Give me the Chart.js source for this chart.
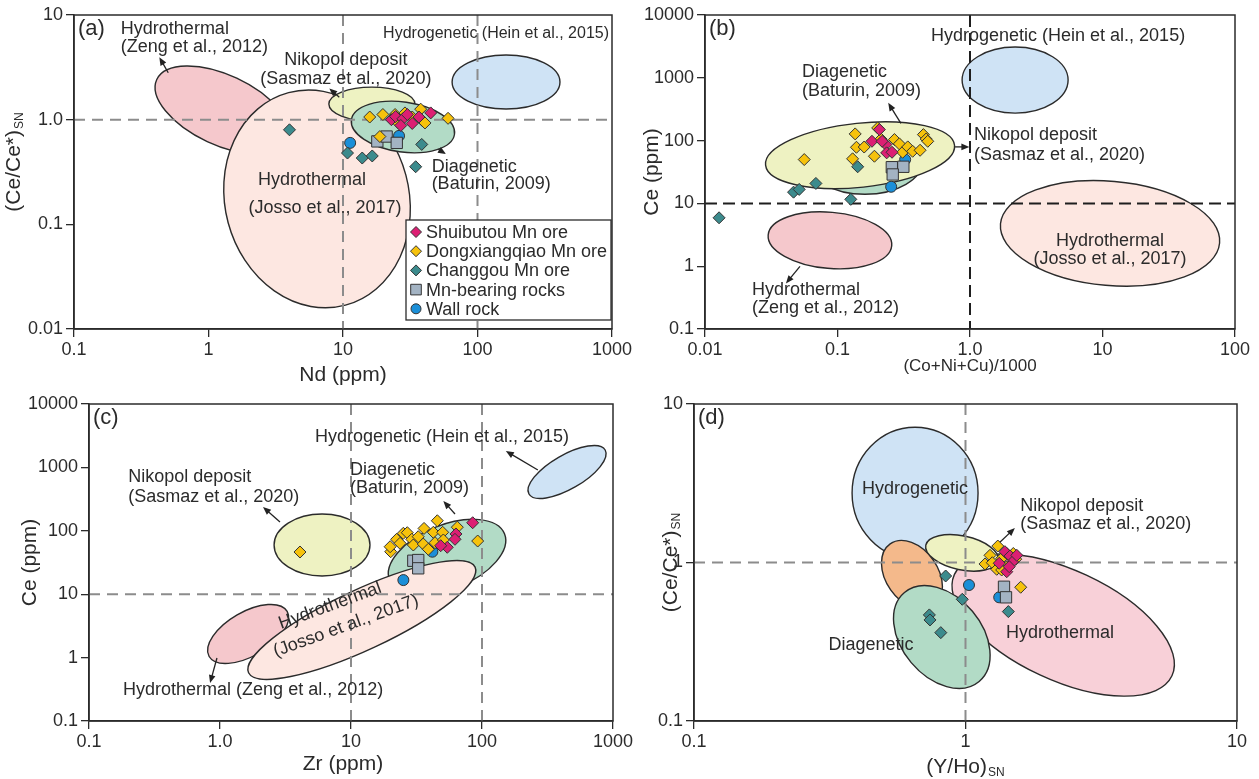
<!DOCTYPE html>
<html><head><meta charset="utf-8">
<script src="https://cdn.jsdelivr.net/npm/chart.js@4.4.1/dist/chart.umd.min.js"></script>
<style>
html,body{margin:0;padding:0;background:#fff;}
#wrap{position:relative;width:1259px;height:779px;overflow:hidden;background:#fff;}
canvas{position:absolute;}
</style></head><body>
<div id="wrap">
<canvas id="ca" width="640" height="390" style="left:0;top:0"></canvas>
<canvas id="cb" width="619" height="390" style="left:640px;top:0"></canvas>
<canvas id="cc" width="640" height="389" style="left:0;top:390px"></canvas>
<canvas id="cd" width="619" height="389" style="left:640px;top:390px"></canvas>
</div>
<script>
// ---------------- DATA ----------------
const seriesNames = ['Shuibutou Mn ore','Dongxiangqiao Mn ore','Changgou Mn ore','Mn-bearing rocks','Wall rock'];

// (a) Nd (ppm) vs (Ce/Ce*)SN
const aShuiNd = [22.9, 24.6, 27.9, 30.1, 32.7, 26.9, 44.9, 36.7];
const aShuiCe = [1.00, 1.07, 1.02, 1.12, 0.92, 0.88, 1.16, 1.06];
const aDongNd = [15.8, 19.8, 24.4, 25.6, 28.9, 37.8, 38.9, 40.7, 60.4, 18.8, 32.7];
const aDongCe = [1.06, 1.12, 1.12, 0.94, 1.16, 1.26, 0.98, 0.93, 1.03, 0.69, 1.06];
const aChanNd = [4.0, 10.8, 13.9, 16.5, 38.5, 34.7];
const aChanCe = [0.80, 0.48, 0.43, 0.45, 0.58, 0.355];
const aMnNd = [18.0, 21.1, 25.1];
const aMnCe = [0.62, 0.69, 0.60];
const aWallNd = [11.3, 26.1];
const aWallCe = [0.60, 0.70];
const aXTicks = [0.1, 1, 10, 100, 1000];
const aXLabels = ['0.1','1','10','100','1000'];
const aYTicks = [0.01, 0.1, 1, 10];
const aYLabels = ['0.01','0.1','1.0','10'];

// (b) (Co+Ni+Cu)/1000 vs Ce (ppm)
const bShuiX = [0.207, 0.182, 0.232, 0.235, 0.258, 0.217];
const bShuiCe = [150, 97.5, 86.5, 63.8, 65.2, 97.5];
const bDongX = [0.0561, 0.136, 0.139, 0.159, 0.130, 0.190, 0.213, 0.269, 0.293, 0.310, 0.339, 0.369, 0.420, 0.445, 0.467, 0.480, 0.201];
const bDongCe = [49.9, 127.8, 78.3, 79, 51.3, 56.4, 106, 104, 88.7, 65.2, 79.4, 67.6, 70.2, 124.5, 106, 97.5, 159];
const bChanX = [0.01277, 0.0466, 0.0514, 0.0687, 0.126, 0.142];
const bChanCe = [5.9, 15.1, 16.7, 20.8, 11.6, 38.3];
const bMnX = [0.257, 0.314, 0.261];
const bMnCe = [37.7, 38.3, 28.9];
const bWallX = [0.254, 0.324];
const bWallCe = [18.4, 49.9];
const bXTicks = [0.01, 0.1, 1, 10, 100];
const bXLabels = ['0.01','0.1','1.0','10','100'];
const bYTicks = [0.1, 1, 10, 100, 1000, 10000];
const bYLabels = ['0.1','1','10','100','1000','10000'];

// (c) Zr (ppm) vs Ce (ppm)
const cShuiZr = [84.9, 63.3, 62.2, 54.3, 48.4];
const cShuiCe = [134, 89.1, 73.4, 54.9, 58.2];
const cDongZr = [20.1, 19.9, 22.3, 23.7, 25.1, 26.9, 29.1, 29.9, 32.6, 36.1, 35.6, 38.9, 42.5, 43.8, 45.6, 50.1, 50.7, 64.8, 92.7, 4.08];
const cDongCe = [46.8, 56.1, 73.4, 63.5, 91.4, 93.3, 73.4, 59.7, 80.7, 109, 61.9, 51.1, 94.7, 64.9, 144, 94.7, 71.6, 114, 69.0, 46.3];
const cChanZr = [];
const cChanCe = [];
const cMnZr = [29.9, 32.6, 32.6];
const cMnCe = [33.7, 34.6, 25.6];
const cWallZr = [41.8, 25.1];
const cWallCe = [46.8, 16.7];
const cXTicks = [0.1, 1, 10, 100, 1000];
const cXLabels = ['0.1','1.0','10','100','1000'];
const cYTicks = [0.1, 1, 10, 100, 1000, 10000];
const cYLabels = ['0.1','1','10','100','1000','10000'];

// (d) (Y/Ho)SN vs (Ce/Ce*)SN
const dShuiYHo = [1.397, 1.459, 1.492, 1.419, 1.331, 1.545, 1.449];
const dShuiCe = [1.17, 1.10, 1.01, 0.875, 0.989, 1.11, 0.941];
const dDongYHo = [1.315, 1.231, 1.180, 1.255, 1.303, 1.359, 1.419, 1.500, 1.531, 1.597, 1.419, 1.359];
const dDongCe = [1.27, 1.11, 0.979, 0.997, 0.906, 1.06, 1.14, 1.14, 1.05, 0.698, 0.941, 0.897];
const dChanYHo = [0.845, 0.973, 0.736, 0.740, 0.811, 1.438];
const dChanCe = [0.822, 0.586, 0.467, 0.434, 0.361, 0.490];
const dMnYHo = [1.386, 1.410];
const dMnCe = [0.703, 0.603];
const dWallYHo = [1.030, 1.331];
const dWallCe = [0.721, 0.603];
const dXTicks = [0.1, 1, 10];
const dXLabels = ['0.1','1','10'];
const dYTicks = [0.1, 1, 10];
const dYLabels = ['0.1','1','10'];

// ---------------- FIELDS (ellipses in data units: centre, half-axes in decades, tilt) ----------------
const aFields = [
  {kind:'zeng', cx:1.26, cy:1.24, rx:0.535, ry:0.334, rot:25},
  {kind:'josso', cx:6.41, cy:0.175, rx:0.684, ry:1.051, rot:-15},
  {kind:'nikopol', cx:16.4, cy:1.41, rx:0.320, ry:0.162, rot:0},
  {kind:'diag', cx:27.9, cy:0.851, rx:0.387, ry:0.239, rot:8},
  {kind:'hydrog', cx:163, cy:2.29, rx:0.401, ry:0.258, rot:0}
];
const bFields = [
  {kind:'diag', cx:0.161, cy:48.7, rx:0.438, ry:0.542, rot:0},
  {kind:'nikopol', cx:0.148, cy:58.5, rx:0.717, ry:0.510, rot:-6},
  {kind:'hydrog', cx:2.19, cy:919, rx:0.400, ry:0.526, rot:0},
  {kind:'zeng', cx:0.0877, cy:2.58, rx:0.468, ry:0.447, rot:5},
  {kind:'josso', cx:11.4, cy:3.33, rx:0.830, ry:0.829, rot:5}
];
const cFields = [
  {kind:'zeng', cx:1.64, cy:2.36, rx:0.344, ry:0.347, rot:-30},
  {kind:'diag', cx:54.1, cy:38.6, rx:0.473, ry:0.505, rot:-22},
  {kind:'josso', cx:12.1, cy:3.92, rx:0.954, ry:0.473, rot:-25},
  {kind:'nikopol', cx:6.01, cy:59.7, rx:0.366, ry:0.489, rot:0},
  {kind:'hydrog', cx:446, cy:846, rx:0.336, ry:0.268, rot:-30}
];
const dFields = [
  {kind:'hydrog', cx:0.652, cy:2.74, rx:0.232, ry:0.416, rot:0},
  {kind:'orange', cx:0.635, cy:0.834, rx:0.140, ry:0.164, rot:55},
  {kind:'pinkd', cx:2.29, cy:0.403, rx:0.442, ry:0.347, rot:25},
  {kind:'nikopol', cx:0.970, cy:1.15, rx:0.136, ry:0.107, rot:12},
  {kind:'diag', cx:0.818, cy:0.339, rx:0.214, ry:0.252, rot:50}
];

// ---------------- LABELS & ARROWS (anchored in data units) ----------------
const aNotes = [
  {t:'Hydrothermal', x:0.223, y:7.30, align:'left'},
  {t:'(Zeng et al., 2012)', x:0.223, y:4.98, align:'left'},
  {t:'Nikopol deposit', x:10.5, y:3.72, align:'center'},
  {t:'(Sasmaz et al., 2020)', x:10.5, y:2.45, align:'center'},
  {t:'Hydrogenetic (Hein et al., 2015)', x:950, y:6.58, align:'right', size:16},
  {t:'Diagenetic', x:45.6, y:0.351, align:'left'},
  {t:'(Baturin, 2009)', x:45.6, y:0.243, align:'left'},
  {t:'Hydrothermal', x:5.89, y:0.265, align:'center'},
  {t:'(Josso et al., 2017)', x:7.35, y:0.143, align:'center'}
];
const aArrows = [[0.502,2.81,0.431,3.94],[9.38,1.64,7.91,1.99],[51.1,0.521,58.3,0.470]];
const bNotes = [
  {t:'Hydrogenetic (Hein et al., 2015)', x:4.62, y:4624, align:'center'},
  {t:'Diagenetic', x:0.054, y:1233, align:'left'},
  {t:'(Baturin, 2009)', x:0.054, y:614, align:'left'},
  {t:'Nikopol deposit', x:1.07, y:122, align:'left'},
  {t:'(Sasmaz et al., 2020)', x:1.07, y:58.5, align:'left'},
  {t:'Hydrothermal', x:11.4, y:2.49, align:'center'},
  {t:'(Josso et al., 2017)', x:11.4, y:1.28, align:'center'},
  {t:'Hydrothermal', x:0.0226, y:0.411, align:'left'},
  {t:'(Zeng et al., 2012)', x:0.0226, y:0.212, align:'left'}
];
const bArrows = [[0.301,187.5,0.2415,399],[0.771,79.4,0.989,79.4],[0.0521,0.993,0.0408,0.532]];
const cNotes = [
  {t:'Hydrogenetic (Hein et al., 2015)', x:49.5, y:3015, align:'center'},
  {t:'Nikopol deposit', x:0.199, y:706, align:'left'},
  {t:'(Sasmaz et al., 2020)', x:0.199, y:341, align:'left'},
  {t:'Diagenetic', x:9.83, y:910, align:'left'},
  {t:'(Baturin, 2009)', x:9.83, y:473, align:'left'},
  {t:'Hydrothermal', x:6.92, y:6.52, align:'center', rot:-20},
  {t:'(Josso et al., 2017)', x:9.16, y:3.15, align:'center', rot:-20},
  {t:'Hydrothermal (Zeng et al., 2012)', x:0.182, y:0.308, align:'left'}
];
const cArrows = [[267,910,152,1814],[2.87,138,2.13,237],[62.2,184,50.7,295],[0.948,0.986,0.840,0.397]];
const dNotes = [
  {t:'Hydrogenetic', x:0.652, y:2.91, align:'center'},
  {t:'Nikopol deposit', x:1.59, y:2.27, align:'left'},
  {t:'(Sasmaz et al., 2020)', x:1.59, y:1.75, align:'left'},
  {t:'Diagenetic', x:0.449, y:0.301, align:'center'},
  {t:'Hydrothermal', x:2.23, y:0.359, align:'center'}
];
const dArrows = [[1.306,1.29,1.52,1.65]];

// ---------------- STYLE ----------------
const FONT = "'Liberation Sans', Arial, Helvetica, sans-serif";
const INK = '#2b2b2b';
const FIELD_FILL = {zeng:'#f5c8cc', josso:'#fde7e1', nikopol:'#eef2c2', diag:'#b2dbc6', hydrog:'#cfe3f5', orange:'#f4b98b', pinkd:'#f8d0d8'};
const SERIES_STYLE = [
  {style:'rectRot', color:'#dc1f73', r:6},
  {style:'rectRot', color:'#f6c20c', r:6},
  {style:'rectRot', color:'#3c8b8d', r:6},
  {style:'rect', color:'#a3b3c3', r:8},
  {style:'circle', color:'#1b8fd8', r:5.5}
];

function pts(xs, ys){ return xs.map((v,i)=>({x:v, y:ys[i]})); }
function makeDatasets(groups){
  return groups.map((g,i)=>({
    label: seriesNames[i], data: pts(g[0], g[1]),
    pointStyle: SERIES_STYLE[i].style, pointRadius: SERIES_STYLE[i].r,
    backgroundColor: SERIES_STYLE[i].color, borderColor: '#333', borderWidth: 1,
    pointBorderColor:'#333', pointBackgroundColor: SERIES_STYLE[i].color, showLine:false
  }));
}

function arrow(ctx, x1,y1,x2,y2){
  const a = Math.atan2(y2-y1, x2-x1), L=8, W=3.3;
  ctx.beginPath(); ctx.moveTo(x1,y1); ctx.lineTo(x2-L*0.7*Math.cos(a), y2-L*0.7*Math.sin(a)); ctx.stroke();
  ctx.beginPath(); ctx.moveTo(x2,y2);
  ctx.lineTo(x2-L*Math.cos(a)+W*Math.sin(a), y2-L*Math.sin(a)-W*Math.cos(a));
  ctx.lineTo(x2-L*Math.cos(a)-W*Math.sin(a), y2-L*Math.sin(a)+W*Math.cos(a));
  ctx.closePath(); ctx.fill();
}
function titleText(ctx, main, sub, x, y, rot, size, subSize){
  ctx.save(); ctx.translate(x,y); ctx.rotate(rot);
  ctx.font = size+'px '+FONT; const w1 = ctx.measureText(main).width;
  let w2 = 0; if(sub){ ctx.font = subSize+'px '+FONT; w2 = ctx.measureText(sub).width + 1; }
  const tot = w1 + w2, base = size*0.36;
  ctx.fillStyle = INK; ctx.textAlign='left'; ctx.textBaseline='alphabetic';
  ctx.font = size+'px '+FONT; ctx.fillText(main, -tot/2, base);
  if(sub){ ctx.font = subSize+'px '+FONT; ctx.fillText(sub, -tot/2 + w1 + 1, base + subSize*0.3); }
  ctx.restore();
}

const overlay = {
  id:'overlay',
  beforeDatasetsDraw(chart, args, o){
    const ctx = chart.ctx, ca = chart.chartArea, xs = chart.scales.x, ys = chart.scales.y;
    ctx.save();
    ctx.beginPath(); ctx.rect(ca.left, ca.top, ca.right-ca.left, ca.bottom-ca.top); ctx.clip();
    for(const e of o.fields){
      const cx = xs.getPixelForValue(e.cx), cy = ys.getPixelForValue(e.cy);
      const rx = Math.abs(xs.getPixelForValue(e.cx*Math.pow(10,e.rx)) - cx);
      const ry = Math.abs(ys.getPixelForValue(e.cy*Math.pow(10,e.ry)) - cy);
      ctx.beginPath(); ctx.ellipse(cx, cy, rx, ry, e.rot*Math.PI/180, 0, Math.PI*2);
      ctx.fillStyle = FIELD_FILL[e.kind]; ctx.fill();
      ctx.lineWidth = 1.4; ctx.strokeStyle = INK; ctx.stroke();
    }
    // reference lines
    ctx.setLineDash(o.dark ? [12,6] : [11,7]);
    ctx.lineWidth = 2; ctx.strokeStyle = o.dark ? '#1e1e1e' : '#8c8c8c';
    for(const v of o.refX){ const p = xs.getPixelForValue(v); ctx.beginPath(); ctx.moveTo(p, ca.top); ctx.lineTo(p, ca.bottom); ctx.stroke(); }
    for(const v of o.refY){ const p = ys.getPixelForValue(v); ctx.beginPath(); ctx.moveTo(ca.left, p); ctx.lineTo(ca.right, p); ctx.stroke(); }
    ctx.setLineDash([]);
    // notes
    ctx.fillStyle = INK; ctx.textBaseline='middle';
    for(const t of o.notes){
      ctx.save(); ctx.translate(xs.getPixelForValue(t.x), ys.getPixelForValue(t.y));
      if(t.rot) ctx.rotate(t.rot*Math.PI/180);
      ctx.font = (t.size || 18) + 'px ' + FONT;
      ctx.textAlign = t.align; ctx.fillText(t.t, 0, 0); ctx.restore();
    }
    ctx.strokeStyle = '#222'; ctx.fillStyle = '#222'; ctx.lineWidth = 1.3;
    for(const a of o.arrows){
      arrow(ctx, xs.getPixelForValue(a[0]), ys.getPixelForValue(a[1]), xs.getPixelForValue(a[2]), ys.getPixelForValue(a[3]));
    }
    ctx.restore();
  },
  afterDraw(chart, args, o){
    const ctx = chart.ctx, ca = chart.chartArea;
    ctx.save();
    ctx.strokeStyle = INK; ctx.lineWidth = 1.5;
    ctx.strokeRect(ca.left, ca.top, ca.right-ca.left, ca.bottom-ca.top);
    // panel letter
    ctx.fillStyle = INK; ctx.font = '22px '+FONT; ctx.textBaseline='middle'; ctx.textAlign='left';
    ctx.fillText(o.letter, ca.left+4, ca.top+14);
    // axis titles
    const cxm = (ca.left+ca.right)/2, cym = (ca.top+ca.bottom)/2;
    titleText(ctx, o.xTitle[0], o.xTitle[1], cxm + o.xTitleDX, ca.bottom + o.xTitleDY, 0, o.xTitleSize, 12);
    titleText(ctx, o.yTitle[0], o.yTitle[1], ca.left + o.yTitleDX, cym + o.yTitleDY, -Math.PI/2, o.yTitleSize, 12);
    // legend
    if(o.legend){
      const w = 205, h = 100, L = ca.right - w - 1, T = ca.bottom - h - 9;
      ctx.fillStyle = '#fff'; ctx.fillRect(L, T, w, h);
      ctx.strokeStyle = INK; ctx.lineWidth = 1.3; ctx.strokeRect(L, T, w, h);
      chart.data.datasets.forEach((ds, i) => {
        const y = T + 12 + i*19.2;
        ctx.fillStyle = ds.backgroundColor; ctx.strokeStyle = '#333'; ctx.lineWidth = 1;
        const r = ds.pointStyle === 'rect' ? 7.5 : (ds.pointStyle === 'circle' ? 5 : 5.5);
        Chart.helpers.drawPoint(ctx, {pointStyle: ds.pointStyle, radius: r, rotation: 0, borderWidth: 1}, L + 10, y);
        ctx.fillStyle = INK; ctx.font = '18px '+FONT; ctx.textAlign='left'; ctx.textBaseline='middle';
        ctx.fillText(ds.label, L + 20, y + 1);
      });
    }
    ctx.restore();
  }
};

function axis(pos, min, max, ticks, labels, fit, size){
  return {
    type:'logarithmic', position:pos, min:min, max:max,
    afterBuildTicks: s => { s.ticks = ticks.map(v => ({value:v})); },
    afterFit: s => { if(pos === 'bottom') s.height = fit; else s.width = fit; },
    ticks: { callback: (v, i) => labels[i], font:{family:FONT, size:size}, color:INK,
             padding: pos === 'bottom' ? 2 : 3, autoSkip:false, maxRotation:0, minRotation:0 },
    grid: { display:true, drawOnChartArea:false, drawTicks:true, tickLength:8, color:INK, lineWidth:1.3 },
    border: { display:true, color:INK, width:1.5 },
    title: { display:false }
  };
}

function panel(id, groups, xr, yr, layout, opts){
  new Chart(document.getElementById(id), {
    type:'scatter',
    data:{ datasets: makeDatasets(groups) },
    options:{
      responsive:false, animation:false, devicePixelRatio:1, events:[],
      layout:{ padding:{ top:layout.top, right:layout.right, left:0, bottom:0 } },
      scales:{
        x: axis('bottom', xr[0], xr[1], xr[2], xr[3], layout.xH, 18),
        y: axis('left', yr[0], yr[1], yr[2], yr[3], layout.yW, 18)
      },
      plugins:{ legend:{display:false}, tooltip:{enabled:false}, overlay: opts }
    },
    plugins:[overlay]
  });
}

panel('ca', [[aShuiNd,aShuiCe],[aDongNd,aDongCe],[aChanNd,aChanCe],[aMnNd,aMnCe],[aWallNd,aWallCe]],
  [0.1,1000,aXTicks,aXLabels], [0.01,10,aYTicks,aYLabels],
  {top:15, right:28, xH:61, yW:74},
  {fields:aFields, notes:aNotes, arrows:aArrows, refX:[10,100], refY:[1], dark:false, letter:'(a)', legend:true,
   xTitle:['Nd (ppm)',''], xTitleDX:0, xTitleDY:44, xTitleSize:21,
   yTitle:['(Ce/Ce*)','SN'], yTitleDX:-62, yTitleDY:-10, yTitleSize:21});

panel('cb', [[bShuiX,bShuiCe],[bDongX,bDongCe],[bChanX,bChanCe],[bMnX,bMnCe],[bWallX,bWallCe]],
  [0.01,100,bXTicks,bXLabels], [0.1,10000,bYTicks,bYLabels],
  {top:15, right:24, xH:61, yW:65},
  {fields:bFields, notes:bNotes, arrows:bArrows, refX:[1], refY:[10], dark:true, letter:'(b)', legend:false,
   xTitle:['(Co+Ni+Cu)/1000',''], xTitleDX:0, xTitleDY:36, xTitleSize:17,
   yTitle:['Ce (ppm)',''], yTitleDX:-55, yTitleDY:0, yTitleSize:21});

panel('cc', [[cShuiZr,cShuiCe],[cDongZr,cDongCe],[cChanZr,cChanCe],[cMnZr,cMnCe],[cWallZr,cWallCe]],
  [0.1,1000,cXTicks,cXLabels], [0.1,10000,cYTicks,cYLabels],
  {top:14, right:27, xH:58, yW:89},
  {fields:cFields, notes:cNotes, arrows:cArrows, refX:[10,100], refY:[10], dark:false, letter:'(c)', legend:false,
   xTitle:['Zr (ppm)',''], xTitleDX:-8, xTitleDY:41, xTitleSize:21,
   yTitle:['Ce (ppm)',''], yTitleDX:-61, yTitleDY:0, yTitleSize:21});

panel('cd', [[dShuiYHo,dShuiCe],[dDongYHo,dDongCe],[dChanYHo,dChanCe],[dMnYHo,dMnCe],[dWallYHo,dWallCe]],
  [0.1,10,dXTicks,dXLabels], [0.1,10,dYTicks,dYLabels],
  {top:14, right:22, xH:58, yW:54},
  {fields:dFields, notes:dNotes, arrows:dArrows, refX:[1], refY:[1], dark:false, letter:'(d)', legend:false,
   xTitle:['(Y/Ho)','SN'], xTitleDX:0, xTitleDY:44, xTitleSize:21,
   yTitle:['(Ce/Ce*)','SN'], yTitleDX:-25, yTitleDY:0, yTitleSize:21});
</script>
</body></html>
